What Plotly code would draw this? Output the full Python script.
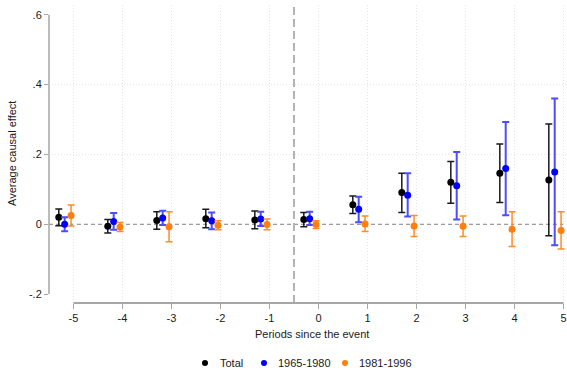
import plotly.graph_objects as go

periods = [-5, -4, -3, -2, -1, 0, 1, 2, 3, 4, 5]

total_est = [0.020, -0.006, 0.011, 0.016, 0.012, 0.014, 0.056, 0.091, 0.120, 0.146, 0.127]
total_lo = [-0.004, -0.025, -0.014, -0.010, -0.013, -0.007, 0.031, 0.034, 0.060, 0.062, -0.033]
total_hi = [0.044, 0.014, 0.036, 0.043, 0.038, 0.034, 0.081, 0.146, 0.180, 0.230, 0.287]

b6580_est = [0.000, 0.008, 0.018, 0.010, 0.015, 0.016, 0.043, 0.083, 0.110, 0.160, 0.150]
b6580_lo = [-0.020, -0.016, -0.002, -0.014, -0.005, -0.002, 0.006, 0.022, 0.014, 0.026, -0.060]
b6580_hi = [0.020, 0.032, 0.039, 0.034, 0.036, 0.036, 0.079, 0.146, 0.207, 0.293, 0.360]

b8196_est = [0.025, -0.008, -0.007, -0.003, -0.001, -0.001, 0.001, -0.005, -0.006, -0.014, -0.018]
b8196_lo = [-0.005, -0.021, -0.050, -0.016, -0.016, -0.012, -0.021, -0.035, -0.035, -0.064, -0.071]
b8196_hi = [0.055, 0.005, 0.036, 0.010, 0.015, 0.010, 0.024, 0.025, 0.024, 0.036, 0.036]

series_names = ["Total", "1965-1980", "1981-1996"]
xtick_vals = [-5, -4, -3, -2, -1, 0, 1, 2, 3, 4, 5]
xtick_text = ["-5", "-4", "-3", "-2", "-1", "0", "1", "2", "3", "4", "5"]
ytick_vals = [-0.2, 0, 0.2, 0.4, 0.6]
ytick_text = ["-.2", "0", ".2", ".4", ".6"]

FONT = "Liberation Sans, Arial, sans-serif"
W, H = 567, 375
ML, MR, MT, MB = 49, 0, 5, 72
PW, PH = W - ML - MR, H - MT - MB


def px2paper(px, py):
    return (px - ML) / PW, (H - MB - py) / PH


specs = [
    (series_names[0], total_est, total_lo, total_hi, -0.30, "#000000", "#1a1a1a", 1.5),
    (series_names[1], b6580_est, b6580_lo, b6580_hi, -0.18, "#0000ff", "#4d4dff", 2.0),
    (series_names[2], b8196_est, b8196_lo, b8196_hi, -0.05, "#ff7f0e", "#ff8c26", 1.5),
]

fig = go.Figure()
for name, est, lo, hi, off, mcol, ecol, ew in specs:
    fig.add_trace(go.Scatter(
        x=[p + off for p in periods],
        y=est,
        mode="markers",
        name=name,
        showlegend=False,
        marker=dict(color=mcol, size=7),
        error_y=dict(
            type="data", symmetric=False,
            array=[h - e for h, e in zip(hi, est)],
            arrayminus=[e - l for e, l in zip(est, lo)],
            color=ecol, thickness=ew, width=3.5,
        ),
    ))

GRID = "#e4e4e4"
shapes = []
for yv in [0.2, 0.4]:
    shapes.append(dict(type="line", xref="paper", yref="y", x0=0, x1=1, y0=yv, y1=yv,
                       line=dict(color=GRID, width=1, dash="1px,2px"), layer="below"))
shapes.append(dict(type="line", xref="paper", yref="y", x0=0, x1=1, y0=0, y1=0,
                   line=dict(color="#808080", width=1, dash="4px,3px"), layer="below"))
shapes.append(dict(type="line", xref="x", yref="paper", x0=-0.5, x1=-0.5, y0=0, y1=1,
                   line=dict(color="#b4b4b4", width=2, dash="8px,4px"), layer="below"))
shapes.append(dict(type="line", xref="paper", yref="y", x0=0, x1=0, y0=-0.2, y1=0.6,
                   line=dict(color="#a6a6a6", width=1.5)))
shapes.append(dict(type="line", xref="x", yref="paper", x0=-5, x1=5, y0=0, y1=0,
                   line=dict(color="#a6a6a6", width=2)))

annotations = []
legend_px = [(205, 218), (264, 276), (345, 357)]
legend_cols = ["#000000", "#0000ff", "#ff7f0e"]
ly = 363
r = 3
for (mx, tx), col, name in zip(legend_px, legend_cols, series_names):
    x0, y0 = px2paper(mx - r, ly + r)
    x1, y1 = px2paper(mx + r, ly - r)
    shapes.append(dict(type="circle", xref="paper", yref="paper", x0=x0, x1=x1, y0=y0, y1=y1,
                       fillcolor=col, line=dict(color=col, width=0)))
    tx_p, ty_p = px2paper(tx, ly)
    annotations.append(dict(text=name, xref="paper", yref="paper", x=tx_p, y=ty_p,
                            xanchor="left", yanchor="middle", showarrow=False,
                            font=dict(size=11, color="#1a1a1a")))

xt, yt = px2paper(312, 334)
annotations.append(dict(text="Periods since the event", xref="paper", yref="paper",
                        x=xt, y=yt, xanchor="center", yanchor="middle", showarrow=False,
                        font=dict(size=11, color="#1a1a1a")))
xt, yt = px2paper(12, 154)
annotations.append(dict(text="Average causal effect", xref="paper", yref="paper",
                        x=xt, y=yt, xanchor="center", yanchor="middle", showarrow=False,
                        textangle=-90, font=dict(size=11, color="#1a1a1a")))

fig.update_layout(
    width=W, height=H,
    margin=dict(l=ML, r=MR, t=MT, b=MB),
    paper_bgcolor="white", plot_bgcolor="white",
    font=dict(family=FONT, size=11, color="#1a1a1a"),
    shapes=shapes,
    annotations=annotations,
    showlegend=False,
    xaxis=dict(
        range=[-5.5, 5.071], automargin=False,
        tickvals=xtick_vals, ticktext=xtick_text,
        showgrid=True, gridcolor=GRID, griddash="1px,2px", gridwidth=1,
        zeroline=False, showline=False,
        ticks="outside", ticklen=5, tickcolor="#a6a6a6", tickwidth=1,
    ),
    yaxis=dict(
        range=[-0.2255, 0.628], automargin=False,
        tickvals=ytick_vals, ticktext=ytick_text,
        showgrid=False, zeroline=False, showline=False,
        ticks="outside", ticklen=4, tickcolor="#a6a6a6", tickwidth=1,
    ),
)

fig.write_html("out.html",
               config={"displayModeBar": False},
               post_script="document.body.style.margin='0';document.body.style.overflow='hidden';")
